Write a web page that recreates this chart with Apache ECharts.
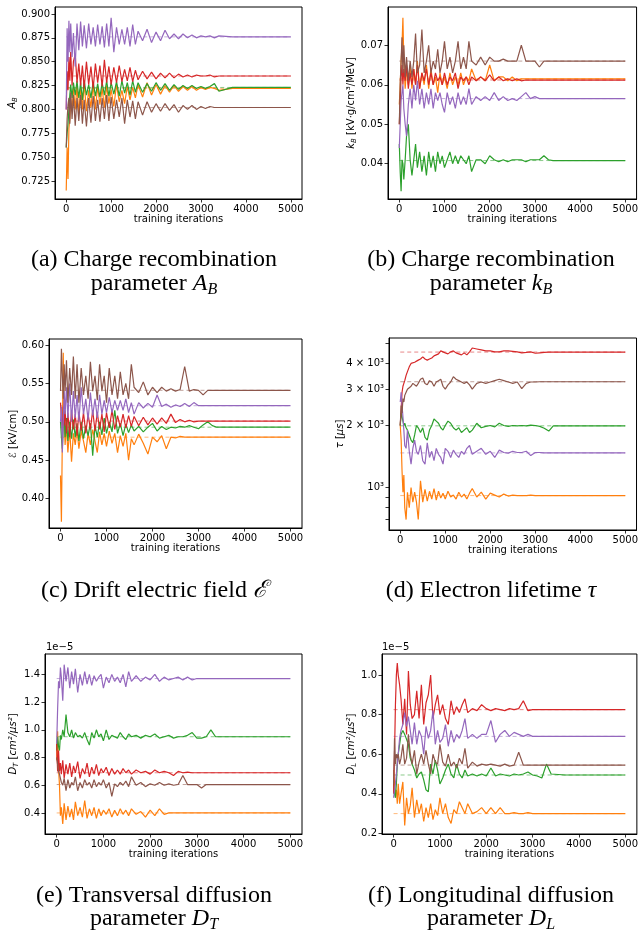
<!DOCTYPE html>
<html>
<head>
<meta charset="utf-8">
<title>Parameter convergence during training</title>
<script src="https://cdn.jsdelivr.net/npm/echarts@6.0.0/dist/echarts.min.js"></script>
<style>
  html, body { margin: 0; padding: 0; background: #ffffff; }
  #chart { width: 641px; height: 931px; }
</style>
</head>
<body>
<div id="chart"></div>
<script>
// Sampled training iterations shared by every trace
const iterations = [
  0, 20, 40, 60, 80, 100, 130, 160, 200, 240,
  280, 320, 360, 400, 450, 500, 550, 600, 650, 700,
  750, 800, 850, 900, 950, 1000, 1060, 1120, 1180, 1240,
  1300, 1360, 1420, 1480, 1540, 1600, 1700, 1800, 1900, 2000,
  2100, 2200, 2300, 2400, 2500, 2600, 2700, 2800, 2900, 3000,
  3100, 3200, 3300, 3400, 3700, 4000, 4500, 5000
];
const xTicks = [0, 1000, 2000, 3000, 4000, 5000];

// (a) recombination parameter A_B
const abOrange = [
  0.715, 0.760, 0.727, 0.780, 0.790, 0.812, 0.798, 0.822, 0.800, 0.825,
  0.795, 0.822, 0.800, 0.828, 0.798, 0.820, 0.802, 0.826, 0.800, 0.824,
  0.805, 0.822, 0.802, 0.825, 0.806, 0.821, 0.803, 0.826, 0.808, 0.820,
  0.806, 0.824, 0.810, 0.823, 0.812, 0.826, 0.813, 0.828, 0.815, 0.826,
  0.816, 0.825, 0.818, 0.825, 0.819, 0.824, 0.820, 0.824, 0.820, 0.823,
  0.821, 0.823, 0.822, 0.820, 0.822, 0.822, 0.822, 0.822
];
const abGreen = [
  0.760, 0.775, 0.785, 0.800, 0.815, 0.826, 0.812, 0.828, 0.815, 0.830,
  0.812, 0.828, 0.810, 0.830, 0.815, 0.826, 0.812, 0.829, 0.814, 0.827,
  0.813, 0.828, 0.815, 0.830, 0.814, 0.828, 0.816, 0.829, 0.814, 0.830,
  0.817, 0.828, 0.815, 0.830, 0.818, 0.828, 0.818, 0.827, 0.819, 0.828,
  0.820, 0.827, 0.820, 0.826, 0.821, 0.825, 0.822, 0.825, 0.822, 0.824,
  0.822, 0.824, 0.827, 0.819, 0.823, 0.823, 0.823, 0.823
];
const abRed = [
  0.800, 0.840, 0.820, 0.855, 0.830, 0.860, 0.825, 0.850, 0.858, 0.828,
  0.848, 0.825, 0.846, 0.822, 0.850, 0.826, 0.845, 0.822, 0.848, 0.828,
  0.846, 0.824, 0.852, 0.828, 0.845, 0.826, 0.844, 0.828, 0.846, 0.829,
  0.842, 0.830, 0.844, 0.829, 0.841, 0.831, 0.840, 0.832, 0.839, 0.832,
  0.838, 0.833, 0.838, 0.833, 0.837, 0.834, 0.836, 0.834, 0.836, 0.835,
  0.835, 0.836, 0.834, 0.835, 0.835, 0.835, 0.835, 0.835
];
const abPurple = [
  0.800, 0.885, 0.850, 0.893, 0.860, 0.890, 0.855, 0.880, 0.845, 0.890,
  0.862, 0.892, 0.866, 0.888, 0.864, 0.890, 0.868, 0.886, 0.866, 0.889,
  0.868, 0.887, 0.865, 0.890, 0.866, 0.896, 0.860, 0.886, 0.868, 0.884,
  0.868, 0.886, 0.866, 0.889, 0.868, 0.882, 0.872, 0.884, 0.870, 0.881,
  0.872, 0.883, 0.874, 0.879, 0.874, 0.879, 0.875, 0.878, 0.875, 0.877,
  0.876, 0.877, 0.875, 0.877, 0.876, 0.876, 0.876, 0.876
];
const abBrown = [
  0.760, 0.790, 0.805, 0.812, 0.785, 0.818, 0.790, 0.815, 0.783, 0.812,
  0.788, 0.815, 0.785, 0.810, 0.782, 0.812, 0.786, 0.814, 0.788, 0.810,
  0.787, 0.812, 0.790, 0.815, 0.788, 0.813, 0.790, 0.810, 0.792, 0.812,
  0.785, 0.810, 0.792, 0.809, 0.790, 0.808, 0.794, 0.808, 0.797, 0.806,
  0.798, 0.806, 0.799, 0.805, 0.797, 0.804, 0.800, 0.804, 0.800, 0.803,
  0.801, 0.803, 0.802, 0.802, 0.802, 0.802, 0.802, 0.802
];
const abTruth = [0.822, 0.823, 0.835, 0.876, 0.802];
const abTicks = [0.725, 0.750, 0.775, 0.800, 0.825, 0.850, 0.875, 0.900];

// (b) recombination parameter k_B
const kbOrange = [
  0.055, 0.060, 0.066, 0.070, 0.077, 0.066, 0.059, 0.064, 0.060, 0.065,
  0.059, 0.064, 0.060, 0.066, 0.059, 0.063, 0.060, 0.065, 0.059, 0.064,
  0.060, 0.062, 0.058, 0.063, 0.060, 0.062, 0.059, 0.063, 0.060, 0.062,
  0.060, 0.063, 0.060, 0.062, 0.061, 0.064, 0.061, 0.062, 0.061, 0.065,
  0.061, 0.062, 0.062, 0.061, 0.062, 0.061, 0.0615, 0.0615, 0.0615, 0.0615,
  0.0615, 0.0615, 0.0615, 0.0615, 0.0615, 0.0615, 0.0615, 0.0615
];
const kbGreen = [
  0.045, 0.038, 0.033, 0.041, 0.040, 0.036, 0.041, 0.047, 0.050, 0.041,
  0.037, 0.041, 0.045, 0.039, 0.043, 0.038, 0.042, 0.037, 0.043, 0.039,
  0.042, 0.038, 0.043, 0.040, 0.042, 0.039, 0.041, 0.043, 0.040, 0.042,
  0.040, 0.042, 0.041, 0.040, 0.042, 0.038, 0.041, 0.041, 0.040, 0.042,
  0.041, 0.0405, 0.041, 0.0405, 0.041, 0.041, 0.041, 0.0405, 0.041, 0.041,
  0.041, 0.042, 0.041, 0.0408, 0.0408, 0.0408, 0.0408, 0.0408
];
const kbRed = [
  0.050, 0.056, 0.062, 0.065, 0.060, 0.064, 0.061, 0.065, 0.059, 0.063,
  0.060, 0.064, 0.060, 0.065, 0.059, 0.063, 0.061, 0.064, 0.060, 0.063,
  0.060, 0.063, 0.061, 0.062, 0.060, 0.063, 0.060, 0.062, 0.061, 0.063,
  0.059, 0.062, 0.061, 0.062, 0.060, 0.062, 0.061, 0.062, 0.061, 0.0625,
  0.061, 0.062, 0.061, 0.0615, 0.061, 0.0615, 0.061, 0.0612, 0.0612, 0.0612,
  0.0612, 0.0612, 0.0612, 0.0612, 0.0612, 0.0612, 0.0612, 0.0612
];
const kbPurple = [
  0.044, 0.050, 0.056, 0.058, 0.060, 0.054, 0.050, 0.047, 0.055, 0.059,
  0.054, 0.060, 0.056, 0.061, 0.055, 0.059, 0.054, 0.058, 0.055, 0.059,
  0.054, 0.058, 0.056, 0.058, 0.055, 0.053, 0.058, 0.055, 0.057, 0.054,
  0.058, 0.055, 0.057, 0.055, 0.059, 0.055, 0.057, 0.056, 0.057, 0.056,
  0.058, 0.056, 0.057, 0.056, 0.0565, 0.056, 0.057, 0.058, 0.0565, 0.057,
  0.0565, 0.0565, 0.0565, 0.0565, 0.0565, 0.0565, 0.0565, 0.0565
];
const kbBrown = [
  0.050, 0.060, 0.066, 0.072, 0.063, 0.070, 0.062, 0.067, 0.061, 0.066,
  0.062, 0.066, 0.073, 0.063, 0.065, 0.074, 0.063, 0.066, 0.070, 0.063,
  0.066, 0.064, 0.069, 0.063, 0.066, 0.071, 0.064, 0.067, 0.063, 0.066,
  0.071, 0.064, 0.067, 0.064, 0.071, 0.066, 0.065, 0.067, 0.065, 0.067,
  0.066, 0.066, 0.0665, 0.066, 0.066, 0.066, 0.070, 0.066, 0.066, 0.066,
  0.0645, 0.066, 0.066, 0.066, 0.066, 0.066, 0.066, 0.066
];
const kbTruth = [0.0615, 0.0408, 0.0612, 0.0565, 0.066];
const kbTicks = [0.04, 0.05, 0.06, 0.07];

// (c) drift electric field
const efOrange = [
  0.430, 0.370, 0.480, 0.590, 0.500, 0.470, 0.495, 0.460, 0.490, 0.448,
  0.485, 0.470, 0.490, 0.465, 0.488, 0.475, 0.460, 0.485, 0.470, 0.490,
  0.475, 0.460, 0.487, 0.470, 0.485, 0.468, 0.488, 0.472, 0.485, 0.460,
  0.482, 0.468, 0.485, 0.450, 0.478, 0.470, 0.484, 0.472, 0.458, 0.480,
  0.474, 0.482, 0.465, 0.480, 0.479, 0.481, 0.480, 0.480, 0.480, 0.480,
  0.480, 0.480, 0.480, 0.480, 0.480, 0.480, 0.480, 0.480
];
const efGreen = [
  0.500, 0.480, 0.465, 0.495, 0.510, 0.480, 0.505, 0.475, 0.500, 0.478,
  0.503, 0.480, 0.498, 0.475, 0.500, 0.478, 0.495, 0.482, 0.498, 0.456,
  0.495, 0.480, 0.500, 0.483, 0.505, 0.485, 0.500, 0.487, 0.515, 0.485,
  0.498, 0.482, 0.497, 0.486, 0.496, 0.488, 0.494, 0.487, 0.493, 0.498,
  0.488, 0.494, 0.490, 0.493, 0.492, 0.494, 0.493, 0.495, 0.493, 0.491,
  0.496, 0.500, 0.495, 0.493, 0.493, 0.493, 0.493, 0.493
];
const efRed = [
  0.525, 0.505, 0.490, 0.520, 0.495, 0.515, 0.485, 0.512, 0.480, 0.515,
  0.490, 0.510, 0.482, 0.513, 0.488, 0.512, 0.485, 0.510, 0.490, 0.515,
  0.488, 0.512, 0.490, 0.510, 0.487, 0.512, 0.492, 0.515, 0.490, 0.508,
  0.493, 0.510, 0.492, 0.508, 0.494, 0.507, 0.495, 0.506, 0.496, 0.505,
  0.497, 0.505, 0.498, 0.510, 0.499, 0.503, 0.500, 0.502, 0.500, 0.501,
  0.501, 0.501, 0.501, 0.501, 0.501, 0.501, 0.501, 0.501
];
const efPurple = [
  0.500, 0.520, 0.460, 0.500, 0.540, 0.510, 0.545, 0.505, 0.550, 0.500,
  0.540, 0.505, 0.535, 0.500, 0.545, 0.510, 0.530, 0.502, 0.538, 0.508,
  0.530, 0.505, 0.535, 0.510, 0.528, 0.512, 0.532, 0.512, 0.528, 0.515,
  0.528, 0.515, 0.530, 0.512, 0.525, 0.510, 0.525, 0.518, 0.524, 0.519,
  0.535, 0.520, 0.523, 0.519, 0.522, 0.520, 0.524, 0.520, 0.525, 0.521,
  0.521, 0.521, 0.521, 0.521, 0.521, 0.521, 0.521, 0.521
];
const efBrown = [
  0.540, 0.595, 0.560, 0.530, 0.575, 0.540, 0.580, 0.525, 0.570, 0.535,
  0.585, 0.530, 0.575, 0.525, 0.570, 0.535, 0.560, 0.530, 0.578, 0.540,
  0.560, 0.528, 0.575, 0.540, 0.560, 0.525, 0.570, 0.535, 0.560, 0.530,
  0.565, 0.535, 0.550, 0.530, 0.575, 0.545, 0.538, 0.552, 0.535, 0.545,
  0.538, 0.545, 0.540, 0.543, 0.540, 0.542, 0.572, 0.540, 0.542, 0.541,
  0.535, 0.541, 0.541, 0.541, 0.541, 0.541, 0.541, 0.541
];
const efTruth = [0.480, 0.493, 0.501, 0.521, 0.541];
const efTicks = [0.40, 0.45, 0.50, 0.55, 0.60];

// (d) electron lifetime tau in microseconds
const tauOrange = [
  2000, 1700, 1200, 950, 1150, 800, 700, 950, 800, 1000,
  850, 950, 850, 700, 1080, 850, 980, 860, 960, 880,
  990, 870, 960, 890, 940, 880, 960, 900, 920, 880,
  950, 900, 930, 880, 940, 990, 900, 950, 880, 940,
  920, 900, 930, 910, 920, 915, 915, 915, 920, 915,
  915, 915, 915, 915, 915, 915, 915, 915
];
const tauGreen = [
  2000, 2300, 2200, 2100, 2000, 2050, 1950, 1900, 1800, 1700,
  1650, 1800, 2000, 1950, 1850, 1950, 1750, 1700, 1900, 2000,
  2150, 2100, 2050, 1950, 1900, 2000, 2100, 2050, 1950, 1900,
  1950, 1850, 1900, 1950, 1850, 1900, 2050, 1950, 1980, 2000,
  1970, 2050, 2000, 1980, 2000, 1990, 2000, 1990, 2010, 2000,
  1980, 1940, 1880, 1993, 1993, 1993, 1993, 1993
];
const tauRed = [
  2000, 2400, 2900, 3100, 3200, 3300, 3500, 3650, 3850, 4000,
  4050, 4050, 4100, 4150, 4200, 4300, 4200, 4150, 4200, 4250,
  4350, 4400, 4450, 4600, 4550, 4500, 4450, 4550, 4600, 4500,
  4450, 4400, 4500, 4400, 4550, 4750, 4700, 4650, 4600, 4600,
  4550, 4550, 4600, 4600, 4580, 4550, 4500, 4520, 4550, 4480,
  4500, 4520, 4540, 4540, 4540, 4540, 4540, 4540
];
const tauPurple = [
  2600, 2900, 2500, 2200, 1900, 1600, 1550, 1900, 1500, 1300,
  1550, 1700, 1500, 1450, 1600, 1350, 1300, 1650, 1400, 1500,
  1350, 1550, 1450, 1400, 1300, 1550, 1500, 1400, 1520, 1450,
  1400, 1500, 1450, 1550, 1600, 1450, 1500, 1550, 1450, 1500,
  1400, 1520, 1480, 1470, 1500, 1480, 1480, 1500, 1430, 1480,
  1480, 1473, 1473, 1473, 1473, 1473, 1473, 1473
];
const tauBrown = [
  2000, 2500, 2300, 2700, 2600, 2800, 2900, 3000, 3000, 3100,
  3200, 3150, 3100, 3200, 3350, 3400, 3200, 3150, 3300, 3250,
  3100, 3250, 3300, 3350, 3100, 3000, 3150, 3250, 3450, 3350,
  3300, 3250, 3200, 3250, 3150, 3000, 3200, 3250, 3200, 3250,
  3300, 3350, 3300, 3250, 3200, 3250, 3020, 3200, 3250, 3250,
  3260, 3260, 3260, 3260, 3260, 3260, 3260, 3260
];
const tauTruth = [915, 1993, 4540, 1473, 3260];
const tauTickMarks = [700, 800, 900, 1000, 2000, 3000, 4000, 5000];
const tauTickLabels = [1000, 2000, 3000, 4000];

// (e) transversal diffusion D_T, in units of 1e-5 cm^2/us^2
const dtOrange = [
  0.780, 0.990, 0.720, 0.600, 0.380, 0.440, 0.320, 0.470, 0.350, 0.450,
  0.370, 0.430, 0.350, 0.480, 0.380, 0.440, 0.370, 0.490, 0.360, 0.430,
  0.380, 0.440, 0.360, 0.430, 0.380, 0.420, 0.390, 0.430, 0.370, 0.420,
  0.380, 0.430, 0.390, 0.420, 0.380, 0.430, 0.390, 0.410, 0.370, 0.420,
  0.380, 0.430, 0.390, 0.400, 0.400, 0.400, 0.400, 0.400, 0.400, 0.400,
  0.400, 0.400, 0.400, 0.400, 0.400, 0.400, 0.400, 0.400
];
const dtGreen = [
  0.850, 0.950, 0.880, 0.850, 0.960, 0.930, 1.000, 0.950, 1.110, 0.980,
  0.950, 1.000, 0.940, 0.980, 0.950, 0.960, 0.940, 0.980, 0.930, 0.890,
  0.980, 0.940, 1.000, 0.950, 0.970, 0.920, 1.000, 0.930, 0.960, 0.950,
  0.940, 0.980, 0.950, 0.930, 0.970, 0.950, 0.960, 0.940, 0.960, 0.950,
  0.970, 0.940, 0.950, 0.960, 0.940, 0.950, 0.950, 0.960, 0.980, 0.940,
  0.940, 0.950, 1.000, 0.950, 0.950, 0.950, 0.950, 0.950
];
const dtRed = [
  0.900, 0.700, 0.850, 0.700, 0.760, 0.680, 0.780, 0.650, 0.750, 0.680,
  0.760, 0.660, 0.740, 0.690, 0.770, 0.650, 0.720, 0.680, 0.760, 0.660,
  0.730, 0.680, 0.750, 0.670, 0.720, 0.690, 0.730, 0.670, 0.720, 0.680,
  0.710, 0.680, 0.720, 0.690, 0.710, 0.680, 0.710, 0.690, 0.700, 0.680,
  0.710, 0.690, 0.700, 0.690, 0.670, 0.700, 0.690, 0.695, 0.690, 0.690,
  0.690, 0.690, 0.690, 0.690, 0.690, 0.690, 0.690, 0.690
];
const dtPurple = [
  0.900, 1.150, 1.350, 1.300, 1.450, 1.380, 1.210, 1.470, 1.350, 1.450,
  1.300, 1.420, 1.330, 1.440, 1.270, 1.400, 1.320, 1.420, 1.330, 1.400,
  1.320, 1.390, 1.350, 1.380, 1.400, 1.300, 1.380, 1.340, 1.400, 1.350,
  1.380, 1.340, 1.400, 1.310, 1.420, 1.350, 1.390, 1.350, 1.380, 1.360,
  1.400, 1.350, 1.380, 1.360, 1.370, 1.380, 1.360, 1.380, 1.360, 1.370,
  1.370, 1.370, 1.370, 1.370, 1.370, 1.370, 1.370, 1.370
];
const dtBrown = [
  0.800, 0.750, 0.700, 0.680, 0.650, 0.620, 0.600, 0.650, 0.560, 0.640,
  0.580, 0.620, 0.600, 0.660, 0.560, 0.620, 0.580, 0.640, 0.600, 0.620,
  0.580, 0.640, 0.590, 0.620, 0.600, 0.640, 0.580, 0.620, 0.520, 0.610,
  0.590, 0.620, 0.600, 0.630, 0.590, 0.660, 0.600, 0.620, 0.590, 0.610,
  0.600, 0.620, 0.600, 0.610, 0.600, 0.605, 0.670, 0.605, 0.605, 0.605,
  0.580, 0.605, 0.605, 0.605, 0.605, 0.605, 0.605, 0.605
];
const dtTruth = [0.400, 0.950, 0.690, 1.370, 0.605];
const dtTicks = [0.4, 0.6, 0.8, 1.0, 1.2, 1.4];

// (f) longitudinal diffusion D_L, in units of 1e-5 cm^2/us^2
const dlOrange = [
  0.520, 0.450, 0.400, 0.420, 0.350, 0.450, 0.350, 0.400, 0.460, 0.240,
  0.380, 0.300, 0.340, 0.430, 0.280, 0.370, 0.300, 0.350, 0.260, 0.330,
  0.280, 0.350, 0.270, 0.320, 0.290, 0.380, 0.300, 0.350, 0.280, 0.250,
  0.320, 0.300, 0.360, 0.330, 0.300, 0.350, 0.300, 0.310, 0.330, 0.300,
  0.330, 0.300, 0.330, 0.300, 0.300, 0.305, 0.300, 0.300, 0.305, 0.300,
  0.300, 0.300, 0.300, 0.300, 0.300, 0.300, 0.300, 0.300
];
const dlGreen = [
  0.450, 0.400, 0.380, 0.450, 0.550, 0.600, 0.650, 0.700, 0.720, 0.700,
  0.690, 0.650, 0.580, 0.550, 0.520, 0.480, 0.500, 0.510, 0.470, 0.420,
  0.410, 0.550, 0.500, 0.570, 0.520, 0.450, 0.480, 0.520, 0.550, 0.500,
  0.480, 0.550, 0.500, 0.480, 0.520, 0.490, 0.500, 0.490, 0.500, 0.490,
  0.530, 0.490, 0.500, 0.495, 0.490, 0.500, 0.495, 0.500, 0.510, 0.495,
  0.490, 0.480, 0.550, 0.500, 0.495, 0.495, 0.495, 0.495
];
const dlRed = [
  0.400, 0.600, 0.850, 1.000, 1.060, 1.000, 0.950, 0.880, 0.750, 0.880,
  0.700, 1.020, 0.850, 0.780, 0.800, 0.920, 0.780, 0.950, 0.750, 0.860,
  0.900, 1.000, 0.780, 0.850, 0.900, 0.800, 0.850, 0.780, 0.750, 0.870,
  0.800, 0.840, 0.810, 0.850, 0.880, 0.810, 0.830, 0.820, 0.850, 0.830,
  0.820, 0.830, 0.825, 0.820, 0.830, 0.825, 0.830, 0.870, 0.820, 0.825,
  0.825, 0.825, 0.825, 0.825, 0.825, 0.825, 0.825, 0.825
];
const dlPurple = [
  0.380, 0.420, 0.450, 0.500, 0.550, 0.600, 0.680, 0.720, 0.750, 0.810,
  0.740, 0.790, 0.720, 0.650, 0.760, 0.650, 0.720, 0.690, 0.600, 0.740,
  0.680, 0.720, 0.820, 0.650, 0.720, 0.660, 0.680, 0.750, 0.640, 0.720,
  0.660, 0.700, 0.680, 0.720, 0.780, 0.680, 0.700, 0.680, 0.700, 0.700,
  0.770, 0.660, 0.700, 0.720, 0.690, 0.710, 0.700, 0.690, 0.700, 0.690,
  0.690, 0.690, 0.690, 0.690, 0.690, 0.690, 0.690, 0.690
];
const dlBrown = [
  0.450, 0.680, 0.550, 0.600, 0.580, 0.600, 0.550, 0.580, 0.650, 0.550,
  0.580, 0.700, 0.600, 0.550, 0.620, 0.500, 0.560, 0.600, 0.550, 0.620,
  0.550, 0.500, 0.600, 0.560, 0.550, 0.650, 0.560, 0.540, 0.600, 0.540,
  0.560, 0.530, 0.580, 0.550, 0.630, 0.530, 0.560, 0.540, 0.550, 0.545,
  0.550, 0.545, 0.540, 0.550, 0.540, 0.545, 0.610, 0.545, 0.545, 0.545,
  0.545, 0.545, 0.545, 0.545, 0.545, 0.545, 0.545, 0.545
];
const dlTruth = [0.300, 0.495, 0.825, 0.690, 0.545];
const dlTicks = [0.2, 0.4, 0.6, 0.8, 1.0];

// Line colours, in plotting order: orange, green, red, purple, brown
const palette = ['#ff7f0e', '#2ca02c', '#d62728', '#9467bd', '#8c564b'];

const SANS = 'DejaVu Sans';
const SERIF = 'Liberation Serif';

const labelRich = {
  n:   { fontFamily: SANS, fontSize: 10, lineHeight: 14, color: '#000' },
  it:  { fontFamily: SANS, fontStyle: 'italic', fontSize: 10, lineHeight: 14, color: '#000' },
  sub: { fontFamily: SANS, fontStyle: 'italic', fontSize: 7, lineHeight: 7, verticalAlign: 'bottom', color: '#000' }
};
const captionRich = {
  n:   { fontFamily: SERIF, fontSize: 24, lineHeight: 28, color: '#000' },
  it:  { fontFamily: SERIF, fontStyle: 'italic', fontSize: 24, lineHeight: 28, color: '#000' },
  sub: { fontFamily: SERIF, fontStyle: 'italic', fontSize: 16, lineHeight: 16, verticalAlign: 'bottom', color: '#000' }
};

const panels = [
  {
    grid: { left: 55, top: 7, width: 247, height: 192 },
    yType: 'value', yMin: 0.7061, yMax: 0.9073,
    tickMarks: abTicks, tickLabels: abTicks, fmt: v => v.toFixed(3),
    traces: [abOrange, abGreen, abRed, abPurple, abBrown], truth: abTruth,
    ylabel: { x: 12, y: 103, text: '{it|A}{sub|B}' },
    cx: 154, captions: [[260, '{n|(a) Charge recombination}'], [284, '{n|parameter }{it|A}{sub|B}']]
  },
  {
    grid: { left: 388, top: 7, width: 249, height: 192 },
    yType: 'value', yMin: 0.03106, yMax: 0.0797,
    tickMarks: kbTicks, tickLabels: kbTicks, fmt: v => v.toFixed(2),
    traces: [kbOrange, kbGreen, kbRed, kbPurple, kbBrown], truth: kbTruth,
    ylabel: { x: 351, y: 103, text: '{it|k}{sub|B}{n| [kV·g/cm³/MeV]}' },
    cx: 491, captions: [[260, '{n|(b) Charge recombination}'], [284, '{n|parameter }{it|k}{sub|B}']]
  },
  {
    grid: { left: 49, top: 339, width: 253, height: 189 },
    yType: 'value', yMin: 0.3618, yMax: 0.6078,
    tickMarks: efTicks, tickLabels: efTicks, fmt: v => v.toFixed(2),
    traces: [efOrange, efGreen, efRed, efPurple, efBrown], truth: efTruth,
    ylabel: { x: 13, y: 434, text: '{it|ℰ}{n| [kV/cm]}' },
    cx: 154, captions: [[591, '{n|(c) Drift electric field }{it|ℰ}']]
  },
  {
    grid: { left: 389, top: 338, width: 248, height: 192 },
    yType: 'log', yMin: 623, yMax: 5312,
    tickMarks: tauTickMarks, tickLabels: tauTickLabels,
    fmt: v => (Math.abs(v - 1000) < 1 ? '10³' : Math.round(v / 1000) + ' × 10³'),
    traces: [tauOrange, tauGreen, tauRed, tauPurple, tauBrown], truth: tauTruth,
    ylabel: { x: 340, y: 434, text: '{it|τ}{n| [}{it|μs}{n|]}' },
    cx: 491, captions: [[591, '{n|(d) Electron lifetime }{it|τ}']]
  },
  {
    grid: { left: 45, top: 654, width: 257, height: 180 },
    yType: 'value', yMin: 0.248, yMax: 1.547,
    tickMarks: dtTicks, tickLabels: dtTicks, fmt: v => v.toFixed(1),
    traces: [dtOrange, dtGreen, dtRed, dtPurple, dtBrown], truth: dtTruth,
    ylabel: { x: 13, y: 744, text: '{it|D}{sub|T}{n| [}{it|cm²/μs²}{n|]}' },
    offset: { x: 46, y: 647 },
    cx: 154, captions: [[896, '{n|(e) Transversal diffusion}'], [919, '{n|parameter }{it|D}{sub|T}']]
  },
  {
    grid: { left: 382, top: 654, width: 255, height: 180 },
    yType: 'value', yMin: 0.197, yMax: 1.106,
    tickMarks: dlTicks, tickLabels: dlTicks, fmt: v => v.toFixed(1),
    traces: [dlOrange, dlGreen, dlRed, dlPurple, dlBrown], truth: dlTruth,
    ylabel: { x: 351, y: 744, text: '{it|D}{sub|L}{n| [}{it|cm²/μs²}{n|]}' },
    offset: { x: 382, y: 647 },
    cx: 491, captions: [[896, '{n|(f) Longitudinal diffusion}'], [919, '{n|parameter }{it|D}{sub|L}']]
  }
];

const grids = [], xAxes = [], yAxes = [], series = [], graphics = [];

panels.forEach((p, i) => {
  grids.push(Object.assign({
    show: true, borderColor: '#000', borderWidth: 1, backgroundColor: 'transparent'
  }, p.grid));

  xAxes.push({
    gridIndex: i, type: 'value', min: -250, max: 5250,
    axisLine: { show: true, onZero: false, lineStyle: { color: '#000', width: 1 } },
    axisTick: { show: true, length: 3.5, lineStyle: { color: '#000', width: 0.8 }, customValues: xTicks },
    axisLabel: {
      customValues: xTicks, formatter: v => String(Math.round(v)),
      fontFamily: SANS, fontSize: 10, color: '#000', margin: 5
    },
    splitLine: { show: false },
    name: 'training iterations', nameLocation: 'middle', nameGap: 15,
    nameTextStyle: { fontFamily: SANS, fontSize: 10, color: '#000' }
  });

  const y = {
    gridIndex: i, type: p.yType, min: p.yMin, max: p.yMax,
    axisLine: { show: true, onZero: false, lineStyle: { color: '#000', width: 1 } },
    axisTick: { show: true, length: 3.5, lineStyle: { color: '#000', width: 0.8 }, customValues: p.tickMarks },
    axisLabel: { customValues: p.tickLabels, formatter: p.fmt, fontFamily: SANS, fontSize: 10, color: '#000', margin: 5 },
    splitLine: { show: false },
    minorTick: { show: false }
  };
  if (p.yType === 'log') y.logBase = 10;
  yAxes.push(y);

  // reference values as faint dashed lines
  p.truth.forEach((t, k) => {
    series.push({
      type: 'line', xAxisIndex: i, yAxisIndex: i, z: 2,
      data: [[0, t], [5000, t]],
      showSymbol: false, silent: true,
      lineStyle: { color: palette[k], width: 1, type: [4, 3], opacity: 0.55 }
    });
  });

  // training traces
  p.traces.forEach((vals, k) => {
    series.push({
      type: 'line', xAxisIndex: i, yAxisIndex: i, z: 3,
      data: iterations.map((it, j) => [it, vals[j]]),
      showSymbol: false, silent: true,
      lineStyle: { color: palette[k], width: 1.2 }
    });
  });

  graphics.push({
    type: 'text', x: p.ylabel.x, y: p.ylabel.y, rotation: Math.PI / 2,
    style: { text: p.ylabel.text, rich: labelRich, align: 'center', verticalAlign: 'middle' }
  });

  if (p.offset) {
    graphics.push({
      type: 'text', x: p.offset.x, y: p.offset.y,
      style: { text: '1e−5', fontFamily: SANS, fontSize: 10, fill: '#000', align: 'left', verticalAlign: 'middle' }
    });
  }

  p.captions.forEach(([cy, txt]) => {
    graphics.push({
      type: 'text', x: p.cx, y: cy,
      style: { text: txt, rich: captionRich, align: 'center', verticalAlign: 'middle' }
    });
  });
});

const chart = echarts.init(document.getElementById('chart'), null, { renderer: 'canvas' });
chart.setOption({
  backgroundColor: '#ffffff',
  animation: false,
  grid: grids,
  xAxis: xAxes,
  yAxis: yAxes,
  series: series,
  graphic: graphics
});
</script>
</body>
</html>
